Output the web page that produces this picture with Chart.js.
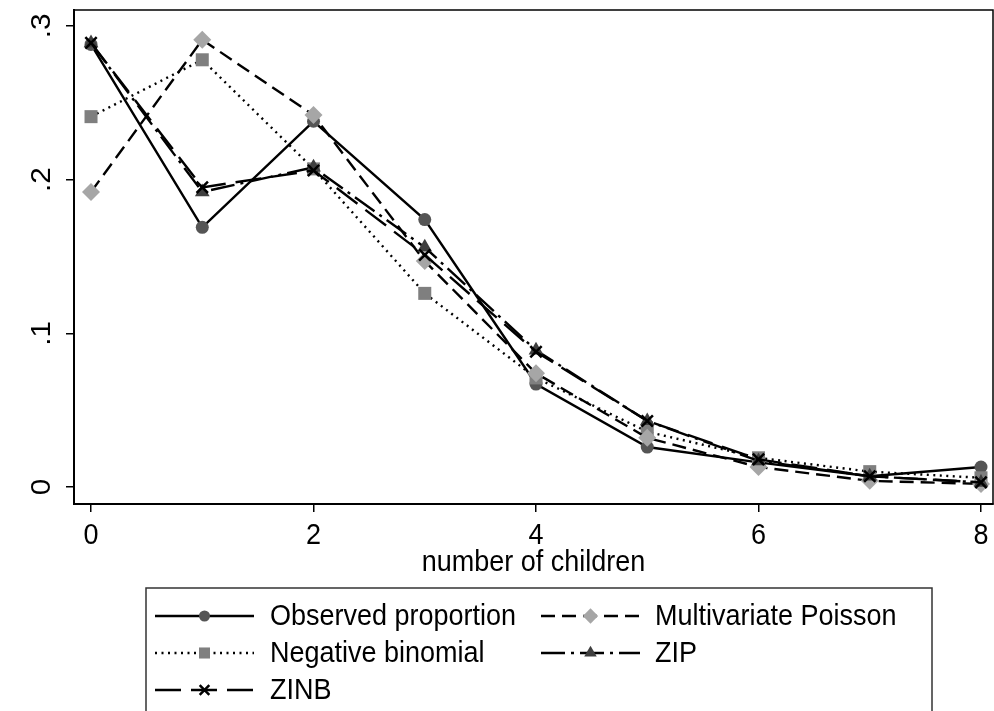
<!DOCTYPE html>
<html><head><meta charset="utf-8">
<script src="https://cdn.jsdelivr.net/npm/chart.js@4"></script>
<style>html,body{margin:0;padding:0;background:#fff}</style>
</head><body>
<canvas id="c" width="994" height="711" style="width:994px;height:711px;display:block"></canvas>
<script>
// ---- data ----
const children = [0, 1, 2, 3, 4, 5, 6, 7, 8];
const observed     = [0.288, 0.169, 0.238, 0.174, 0.067, 0.026, 0.016, 0.007, 0.013];
const negBinomial  = [0.241, 0.278, 0.207, 0.126, 0.071, 0.036, 0.019, 0.010, 0.006];
const multiPoisson = [0.192, 0.291, 0.242, 0.147, 0.074, 0.032, 0.013, 0.004, 0.002];
const zip          = [0.289, 0.192, 0.208, 0.156, 0.089, 0.043, 0.017, 0.007, 0.003];
const zinb         = [0.289, 0.195, 0.206, 0.151, 0.088, 0.043, 0.018, 0.007, 0.003];
const seriesNames = ['Observed proportion', 'Negative binomial', 'Multivariate Poisson', 'ZIP', 'ZINB'];
const xTicks = [0, 2, 4, 6, 8];
const xTickLabels = ['0', '2', '4', '6', '8'];
const yTicks = [0, 0.1, 0.2, 0.3];
const yTickLabels = ['0', '.1', '.2', '.3'];
const xTitle = 'number of children';

const FONT = '"Liberation Sans", Arial, sans-serif';
const TEXT_STRETCH = 1.1;
const pts = arr => arr.map((v, i) => ({x: children[i], y: v}));

const styles = [
  {dash: [], pointStyle: 'circle', radius: 6.5, fill: '#555555'},
  {dash: [2, 4.5], pointStyle: 'rect', radius: 9.2, fill: '#7f7f7f'},
  {dash: [14, 7], pointStyle: 'rectRot', radius: 9, fill: '#a6a6a6'},
  {dash: [24, 6, 3, 6], pointStyle: 'triangle', radius: 8.5, fill: '#3f3f3f'},
  {dash: [26, 10], pointStyle: 'crossRot', radius: 8, fill: '#000000'}
];
const seriesData = [observed, negBinomial, multiPoisson, zip, zinb];
// legend slot [column,row] for each series
const legendSlots = [[0, 0], [0, 1], [1, 0], [1, 1], [0, 2]];

const datasets = seriesData.map((d, i) => ({
  label: seriesNames[i],
  data: pts(d),
  order: 5 - i,
  borderColor: '#000',
  borderWidth: 2.4,
  borderDash: styles[i].dash,
  tension: 0,
  fill: false,
  pointStyle: styles[i].pointStyle,
  pointRadius: styles[i].radius,
  pointBackgroundColor: styles[i].fill,
  pointBorderColor: styles[i].fill,
  pointBorderWidth: styles[i].pointStyle === 'crossRot' ? 2.5 : 0
}));

function drawMarker(ctx, st, x, y, scale) {
  ctx.save();
  ctx.setLineDash([]);
  ctx.fillStyle = st.fill;
  ctx.strokeStyle = st.fill;
  ctx.lineWidth = st.pointStyle === 'crossRot' ? 2.5 : 0.01;
  if (Chart.helpers && Chart.helpers.drawPoint) {
    Chart.helpers.drawPoint(ctx, {pointStyle: st.pointStyle, radius: st.radius * scale, rotation: 0, borderWidth: ctx.lineWidth}, x, y);
  }
  ctx.restore();
}

function text(ctx, s, x, y, rot) {
  ctx.save();
  ctx.translate(x, y);
  if (rot) ctx.rotate(rot);
  ctx.scale(1, TEXT_STRETCH);
  ctx.fillText(s, 0, 0);
  ctx.restore();
}

const decor = {
  id: 'decor',
  beforeDatasetsDraw(chart) {
    const {ctx, chartArea: a} = chart;
    ctx.save();
    ctx.strokeStyle = '#000';
    ctx.lineWidth = 1.5;
    ctx.strokeRect(a.left, a.top, a.right - a.left, a.bottom - a.top);
    ctx.restore();
  },
  afterDraw(chart) {
    const {ctx, chartArea: a} = chart;
    const ys = chart.scales.y, xs = chart.scales.x;
    ctx.save();
    ctx.fillStyle = '#000';
    ctx.font = '27px ' + FONT;
    ctx.textAlign = 'center';
    ctx.textBaseline = 'middle';
    yTicks.forEach((v, i) => {
      ctx.save();
      ctx.translate(43, ys.getPixelForValue(v));
      ctx.rotate(-Math.PI / 2);
      ctx.scale(TEXT_STRETCH, 1);
      ctx.fillText(yTickLabels[i], 0, 0);
      ctx.restore();
    });
    xTicks.forEach((v, i) => {
      text(ctx, xTickLabels[i], xs.getPixelForValue(v), 536);
    });
    // x title
    text(ctx, xTitle, (a.left + a.right) / 2, 563);
    // legend
    const box = {l: 146, t: 588, r: 932, b: 740};
    ctx.strokeStyle = '#333';
    ctx.lineWidth = 1.5;
    ctx.strokeRect(box.l, box.t, box.r - box.l, box.b - box.t);
    const cols = [{x0: 155, x1: 254, tx: 270}, {x0: 541, x1: 640, tx: 655}];
    const rows = [616, 653, 690];
    ctx.textAlign = 'left';
    seriesNames.forEach((name, i) => {
      const c = cols[legendSlots[i][0]], ry = rows[legendSlots[i][1]];
      const st = styles[i];
      ctx.save();
      ctx.strokeStyle = '#000';
      ctx.lineWidth = 2.4;
      ctx.setLineDash(st.dash);
      ctx.beginPath();
      ctx.moveTo(c.x0, ry);
      ctx.lineTo(c.x1, ry);
      ctx.stroke();
      ctx.restore();
      drawMarker(ctx, st, (c.x0 + c.x1) / 2, ry, 0.85);
      ctx.fillStyle = '#000';
      text(ctx, name, c.tx, ry + 1);
    });
    ctx.restore();
  }
};

new Chart(document.getElementById('c'), {
  type: 'line',
  data: {datasets},
  plugins: [decor],
  options: {
    responsive: false,
    animation: false,
    devicePixelRatio: 1,
    layout: {autoPadding: false, padding: {top: 10, right: 1, left: 0, bottom: 0}},
    plugins: {legend: {display: false}, tooltip: {enabled: false}},
    scales: {
      x: {
        type: 'linear', min: -0.153, max: 8.108,
        afterBuildTicks: s => { s.ticks = xTicks.map(v => ({value: v})); },
        afterFit: s => { s.height = 207; s.paddingLeft = 0; s.paddingRight = 0; },
        ticks: {callback: (v, i) => xTickLabels[i], font: {family: FONT, size: 1}, color: 'rgba(0,0,0,0)', padding: 0, maxRotation: 0, autoSkip: false},
        grid: {display: true, drawOnChartArea: false, drawTicks: true, tickLength: 8, color: '#000', lineWidth: 1.5},
        border: {display: true, color: '#000', width: 2}
      },
      y: {
        type: 'linear', min: -0.01106, max: 0.3104,
        afterBuildTicks: s => { s.ticks = yTicks.map(v => ({value: v})); },
        afterFit: s => { s.width = 74; s.paddingTop = 0; s.paddingBottom = 0; },
        ticks: {callback: (v, i) => yTickLabels[i], font: {family: FONT, size: 1}, color: 'rgba(0,0,0,0)', padding: 0, autoSkip: false},
        grid: {display: true, drawOnChartArea: false, drawTicks: true, tickLength: 8, color: '#000', lineWidth: 1.5},
        border: {display: true, color: '#000', width: 2}
      }
    }
  }
});
</script>
</body></html>
